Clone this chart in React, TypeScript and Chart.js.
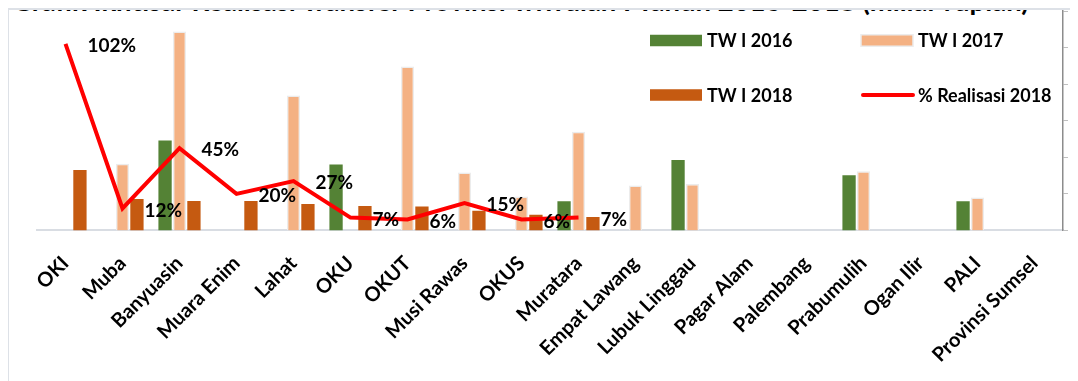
import React, { useEffect, useRef } from "react";
import { Chart, registerables } from "chart.js";

Chart.register(...registerables);

const TITLE =
  "Grafik Ikhtisar Realisasi Transfer Provinsi Triwulan I Tahun 2016-2018 (miliar rupiah)";

const categories = [
  "OKI", "Muba", "Banyuasin", "Muara Enim", "Lahat", "OKU", "OKUT", "Musi Rawas", "OKUS",
  "Muratara", "Empat Lawang", "Lubuk Linggau", "Pagar Alam", "Palembang", "Prabumulih",
  "Ogan Ilir", "PALI", "Provinsi Sumsel",
];

const seriesLabels = ["TW I 2016", "TW I 2017", "TW I 2018", "% Realisasi 2018"];

const tw2016 = [null, null, 49.2, null, null, 36.1, null, null, null, 15.9, null, 38.5, null, null, 30.1, null, 15.9, null];
const tw2017 = [null, 36.4, 108.8, null, 73.8, null, 89.7, 31.7, 18.6, 53.9, 24.6, 25.4, null, null, 32.3, null, 18.0, null];
const tw2018 = [33.1, 17.2, 16.1, 16.1, 14.5, 13.4, 13.1, 10.7, 8.5, 7.4, null, null, null, null, null, null, null, null];
const realisasi2018 = [102, 12, 45, 20, 27, 7, 6, 15, 6, 7, null, null, null, null, null, null, null, null];

const pctTicks = [0, 20, 40, 60, 80, 100, 120];

const FONT = "Lato, 'Open Sans', sans-serif";
const GREEN = "#548235";
const PEACH = "#F4B183";
const RUST = "#C55A11";
const RED = "#FF0000";

const pointLabelPlugin = {
  id: "pointLabels",
  afterDatasetsDraw(chart: any) {
    const ctx = chart.ctx;
    const idx = chart.data.datasets.findIndex((d: any) => d.type === "line");
    const meta = chart.getDatasetMeta(idx);
    const data = chart.data.datasets[idx].data;
    ctx.save();
    ctx.font = `bold 19px ${FONT}`;
    ctx.fillStyle = "#000";
    ctx.textAlign = "left";
    ctx.textBaseline = "middle";
    meta.data.forEach((pt: any, i: number) => {
      const v = data[i];
      if (v === null || v === undefined) return;
      ctx.fillText(`${v}%`, pt.x + 22, pt.y + 2);
    });
    ctx.restore();
  },
};

const legendPlugin = {
  id: "gridLegend",
  afterDraw(chart: any) {
    const ctx = chart.ctx;
    const cols = [642, 853];
    const rows = [32.5, 87];
    const sw = 52;
    const sh = 11.5;
    ctx.save();
    ctx.font = `bold 18px ${FONT}`;
    ctx.textAlign = "left";
    ctx.textBaseline = "middle";
    chart.data.datasets.forEach((ds: any, i: number) => {
      const x = cols[i % 2];
      const y = rows[Math.floor(i / 2)];
      if (ds.type === "line") {
        ctx.strokeStyle = ds.borderColor;
        ctx.lineWidth = 4;
        ctx.lineCap = "round";
        ctx.beginPath();
        ctx.moveTo(x + 2, y);
        ctx.lineTo(x + sw, y);
        ctx.stroke();
      } else {
        ctx.fillStyle = ds.backgroundColor;
        ctx.fillRect(x, y - sh / 2, sw, sh);
        if (ds.borderWidth) {
          ctx.strokeStyle = ds.borderColor;
          ctx.lineWidth = 1.5;
          ctx.strokeRect(x, y - sh / 2, sw, sh);
        }
      }
      ctx.fillStyle = "#000";
      ctx.fillText(ds.label, x + sw + 5, y + 1);
    });
    ctx.restore();
  },
};

export default function App() {
  const ref = useRef<HTMLCanvasElement | null>(null);

  useEffect(() => {
    if (!ref.current) return;
    const chart = new Chart(ref.current, {
      type: "bar",
      data: {
        labels: categories,
        datasets: [
          {
            type: "bar",
            label: seriesLabels[0],
            data: tw2016,
            backgroundColor: GREEN,
            borderWidth: 0,
            order: 1,
            yAxisID: "y",
          },
          {
            type: "bar",
            label: seriesLabels[1],
            data: tw2017,
            backgroundColor: PEACH,
            borderColor: "#ECECEC",
            borderWidth: 1.5,
            order: 1,
            yAxisID: "y",
          },
          {
            type: "bar",
            label: seriesLabels[2],
            data: tw2018,
            backgroundColor: RUST,
            borderWidth: 0,
            order: 1,
            yAxisID: "y",
          },
          {
            type: "line",
            label: seriesLabels[3],
            data: realisasi2018,
            borderColor: RED,
            backgroundColor: RED,
            borderWidth: 4,
            pointRadius: 0,
            tension: 0,
            order: 0,
            yAxisID: "y1",
          },
        ] as any,
      },
      options: {
        responsive: false,
        animation: false,
        maintainAspectRatio: false,
        datasets: {
          bar: { categoryPercentage: 0.76, barPercentage: 0.92 },
        } as any,
        layout: { padding: { left: 29, right: 10, top: 3, bottom: 40 } },
        plugins: {
          legend: { display: false },
          tooltip: { enabled: false },
          title: { display: false },
        },
        scales: {
          x: {
            offset: true,
            grid: { display: false, drawTicks: false },
            border: { display: true, color: "#D9DDE3", width: 2 },
            ticks: {
              autoSkip: false,
              minRotation: 45,
              maxRotation: 45,
              padding: 21,
              color: "#000",
              font: { family: FONT, size: 20, weight: "bold" },
            },
          },
          y: {
            display: false,
            min: 0,
            max: 120,
          },
          y1: {
            position: "right",
            min: 0,
            max: 120,
            afterBuildTicks: (axis: any) => {
              axis.ticks = pctTicks.map((v) => ({ value: v }));
            },
            grid: { drawOnChartArea: false, drawTicks: true, tickLength: 5, color: "#BFBFBF" },
            border: { display: true, color: "#8C8C8C", width: 1.5 },
            ticks: { display: false },
          },
        },
      },
      plugins: [pointLabelPlugin, legendPlugin],
    });
    return () => chart.destroy();
  }, []);

  return (
    <div style={{ position: "relative", width: 1070, height: 373 }}>
      <div
        style={{
          position: "absolute",
          left: 4,
          top: -21.5,
          fontFamily: FONT,
          fontWeight: "bold",
          fontSize: 27.5,
          lineHeight: "27.5px",
          whiteSpace: "nowrap",
          color: "#000",
        }}
      >
        {TITLE}
      </div>
      <div
        style={{
          position: "absolute",
          left: -1,
          top: 0,
          width: 1071,
          height: 373,
          boxSizing: "border-box",
          borderLeft: "2px solid #DDE1E7",
          borderTop: "2px solid #DDE1E7",
        }}
      />
      <div
        style={{
          position: "absolute",
          left: 0,
          top: 0,
          width: 1070,
          height: 373,
          overflow: "hidden",
        }}
      >
        <canvas
          ref={ref}
          width={1070}
          height={420}
          style={{ position: "absolute", left: 0, top: 0, width: 1070, height: 420 }}
        />
      </div>
    </div>
  );
}
